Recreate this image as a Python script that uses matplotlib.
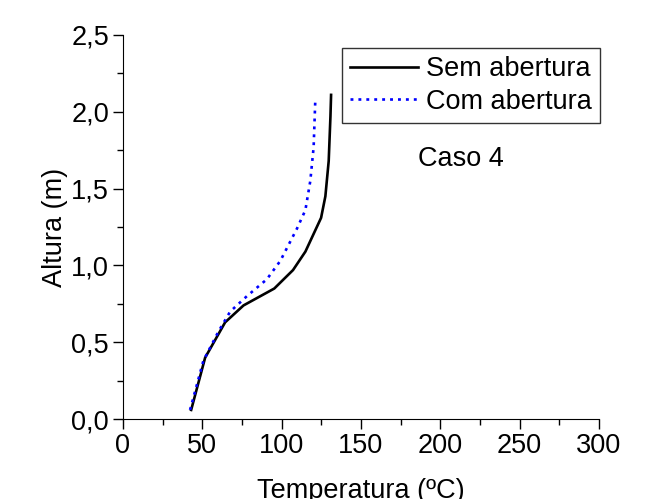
import numpy as np
import matplotlib
matplotlib.use("Agg")
import matplotlib.pyplot as plt
import matplotlib.ticker as mticker

plt.rcParams['font.family'] = ['Liberation Sans', 'DejaVu Sans']

# Perfil de temperatura vs altura (Caso 4)
temp_sem = [43.0, 51.8, 64.4, 76.0, 95.4, 107.2, 115.0, 124.9, 127.6, 129.7, 130.8, 131.2]
alt_sem  = [0.06, 0.40, 0.63, 0.74, 0.85, 0.97, 1.09, 1.31, 1.45, 1.68, 1.97, 2.11]

temp_com = [42.3, 50.7, 60.2, 67.6, 78.1, 90.7, 99.2, 109.7, 115.0, 118.1, 120.2, 121.3]
alt_com  = [0.06, 0.38, 0.57, 0.70, 0.80, 0.91, 1.03, 1.24, 1.36, 1.55, 1.77, 2.09]

LABELS = ["Sem abertura", "Com abertura"]

FS = 19.5

fig = plt.figure(figsize=(6.61, 4.99), dpi=100)
ax = fig.add_axes([0.186, 0.160, 0.720, 0.770])

ax.plot(temp_sem, alt_sem, color="black", lw=1.9, label=LABELS[0])
ax.plot(temp_com, alt_com, color="#0000FF", lw=1.9,
        linestyle=(0, (1.1, 1.9)), label=LABELS[1])

ax.set_xlim(0, 300)
ax.set_ylim(0, 2.5)
ax.xaxis.set_major_locator(mticker.MultipleLocator(50))
ax.xaxis.set_minor_locator(mticker.MultipleLocator(25))
ax.yaxis.set_major_locator(mticker.MultipleLocator(0.5))
ax.yaxis.set_minor_locator(mticker.MultipleLocator(0.25))
ax.yaxis.set_major_formatter(
    mticker.FuncFormatter(lambda v, p: f"{v:.1f}".replace(".", ",")))

ax.tick_params(which="major", direction="out", length=7, width=1,
               labelsize=FS, pad=3)
ax.tick_params(which="minor", direction="out", length=4, width=1)
ax.spines["top"].set_visible(False)
ax.spines["right"].set_visible(False)

ax.set_xlabel("Temperatura (ºC)", fontsize=FS, labelpad=14)
ax.set_ylabel("Altura (m)", fontsize=FS, labelpad=2)

leg = ax.legend(loc="upper right", bbox_to_anchor=(1.002, 0.966),
                fontsize=FS, frameon=True, fancybox=False,
                edgecolor="black", handlelength=2.5, handletextpad=0.3,
                borderpad=0.3, labelspacing=0.25, borderaxespad=0)
leg.get_frame().set_linewidth(1.0)

ax.text(213, 1.69, "Caso 4", fontsize=FS, ha="center", va="center")

fig.savefig("out.png", dpi=100)
